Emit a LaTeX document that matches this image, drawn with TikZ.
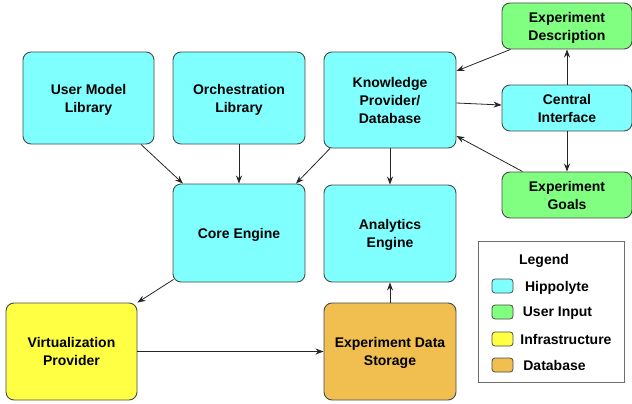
\documentclass[tikz,border=0pt]{standalone}
\usepackage{fontspec}
\setmainfont{Liberation Sans}
\usetikzlibrary{arrows.meta}
\definecolor{hippo}{HTML}{80FFFF}
\definecolor{userin}{HTML}{80FF80}
\definecolor{infra}{HTML}{FFFF44}
\definecolor{dbase}{HTML}{F0BF50}
\definecolor{edge}{HTML}{4A4A4A}
\tikzset{
  box/.style={draw=edge, line width=0.9pt, rounded corners=8pt, inner sep=0pt,
    align=center, text depth=0pt, font=\fontsize{14}{18}\selectfont\bfseries},
  swatch/.style={draw=edge, line width=0.8pt, rounded corners=3pt, inner sep=0pt,
    minimum width=21pt, minimum height=14pt},
  legtext/.style={font=\fontsize{14}{18}\selectfont\bfseries, inner sep=0pt, text depth=0pt},
  arr/.style={draw=black!85, line width=0.8pt, -{Stealth[length=8pt,width=6pt]}}
}
\begin{document}
\begin{tikzpicture}[x=1pt,y=-1pt]
\useasboundingbox (0,0) rectangle (632,404);

% component boxes
\node[box, fill=hippo, minimum width=131pt, minimum height=92pt] (uml) at (88.5,98) {User Model\\Library};
\node[box, fill=hippo, minimum width=132pt, minimum height=92pt] (orch) at (239,98) {Orchestration\\Library};
\node[box, fill=hippo, minimum width=132pt, minimum height=96pt] (know) at (390,100) {Knowledge\\Provider/\\Database};
\node[box, fill=hippo, minimum width=132pt, minimum height=98pt] (core) at (239,233) {Core Engine};
\node[box, fill=hippo, minimum width=132pt, minimum height=97pt] (anal) at (390,233.5) {Analytics\\Engine};
\node[box, fill=dbase, minimum width=132pt, minimum height=97pt] (store) at (390,351.5) {Experiment Data\\Storage};
\node[box, fill=infra, minimum width=131pt, minimum height=97pt] (virt) at (71.5,351.5) {Virtualization\\Provider};
\node[box, fill=userin, minimum width=130pt, minimum height=46pt] (desc) at (567,26) {Experiment\\Description};
\node[box, fill=hippo, minimum width=130pt, minimum height=46pt] (cent) at (567,108) {Central\\Interface};
\node[box, fill=userin, minimum width=130pt, minimum height=46pt] (goals) at (567,195) {Experiment\\Goals};

% connectors
\draw[arr] ([xshift=52.5pt]uml.south) -- ([xshift=-56pt]core.north);
\draw[arr] (orch.south) -- (core.north);
\draw[arr] ([xshift=-60pt]know.south) -- ([xshift=57pt]core.north);
\draw[arr] (know.south) -- (anal.north);
\draw[arr] ([xshift=1pt,yshift=3pt]core.south west) -- (virt.north east);
\draw[arr] (virt.east) -- (store.west);
\draw[arr] (store.north) -- (anal.south);
\draw[arr] ([xshift=9pt]desc.south west) -- ([yshift=29pt]know.east);
\draw[arr] ([yshift=-3pt]know.east) -- ([yshift=3pt]cent.west);
\draw[arr] (cent.north) -- (desc.south);
\draw[arr] (cent.south) -- (goals.north);
\draw[arr] ([xshift=21pt]goals.north west) -- ([yshift=-36pt]know.east);

% legend
\node[draw=edge!80, line width=0.8pt, minimum width=146pt, minimum height=141pt, inner sep=0pt] (legend) at (551,311.5) {};
\node[legtext] (legtitle) at (544,259) {Legend};
\node[swatch, fill=hippo] (sw1) at (502.5,286) {};
\node[swatch, fill=userin] (sw2) at (502.5,312) {};
\node[swatch, fill=infra] (sw3) at (502.5,339) {};
\node[swatch, fill=dbase] (sw4) at (502.5,365) {};
\node[legtext] (lt1) at (557,286) {Hippolyte};
\node[legtext] (lt2) at (557.5,312) {User Input};
\node[legtext] (lt3) at (566,339) {Infrastructure};
\node[legtext] (lt4) at (554.5,365) {Database};
\end{tikzpicture}
\end{document}
